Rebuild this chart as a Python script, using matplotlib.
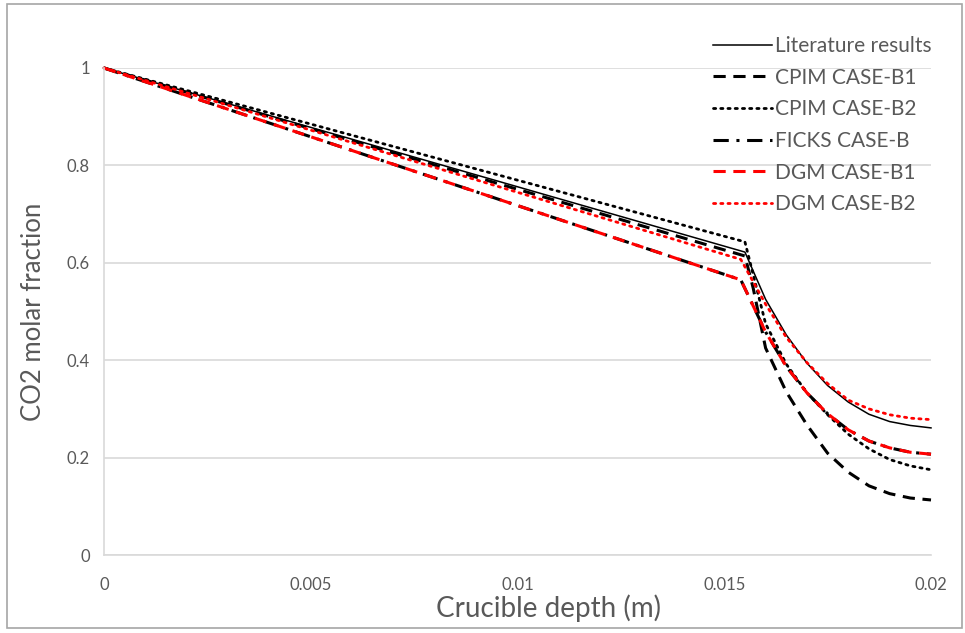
import matplotlib.pyplot as plt
from matplotlib.patches import Rectangle

# data (x in m, y = CO2 molar fraction)
x_tail = [0.0160, 0.0165, 0.0170, 0.0175, 0.0180, 0.0185, 0.0190, 0.0195, 0.0200]

lit_x = [0.0, 0.0155] + x_tail
lit_y = [1.0, 0.622, 0.525, 0.452, 0.394, 0.348, 0.314, 0.289, 0.274, 0.266, 0.261]

cpim_b1_x = [0.0, 0.0155, 0.0157] + x_tail
cpim_b1_y = [1.0, 0.614, 0.548, 0.425, 0.335, 0.267, 0.209, 0.170, 0.142, 0.126, 0.117, 0.113]

cpim_b2_x = [0.0, 0.0155] + x_tail
cpim_b2_y = [1.0, 0.643, 0.475, 0.392, 0.333, 0.288, 0.248, 0.218, 0.196, 0.183, 0.175]

ficks_x = [0.0, 0.0154] + x_tail
ficks_y = [1.0, 0.565, 0.458, 0.387, 0.333, 0.290, 0.257, 0.234, 0.220, 0.211, 0.207]

dgm_b1_x = [0.0, 0.0154] + x_tail
dgm_b1_y = [1.0, 0.565, 0.458, 0.387, 0.333, 0.290, 0.257, 0.234, 0.220, 0.211, 0.207]

dgm_b2_x = [0.0, 0.0154] + x_tail
dgm_b2_y = [1.0, 0.607, 0.515, 0.447, 0.395, 0.352, 0.318, 0.300, 0.288, 0.281, 0.278]

xticks = [0, 0.005, 0.01, 0.015, 0.02]
xtick_labels = ['0', '0.005', '0.01', '0.015', '0.02']
yticks = [0, 0.2, 0.4, 0.6, 0.8, 1]
ytick_labels = ['0', '0.2', '0.4', '0.6', '0.8', '1']

plt.rcParams['font.family'] = ['Lato', 'DejaVu Sans']
txt = '#595959'
grid = '#d9d9d9'

fig = plt.figure(figsize=(9.65, 6.33), dpi=100)
ax = fig.add_axes([104/965, 1-555/633, 827/965, 487/633])

ax.plot(lit_x, lit_y, color='black', lw=1.1, label='Literature results', clip_on=False)
ax.plot(cpim_b1_x, cpim_b1_y, color='black', lw=2.2, dashes=(4, 2.5),
        label='CPIM CASE-B1', clip_on=False)
ax.plot(cpim_b2_x, cpim_b2_y, color='black', lw=2.0, dashes=(0.8, 1.8),
        dash_capstyle='round', label='CPIM CASE-B2', clip_on=False)
ax.plot(ficks_x, ficks_y, color='black', lw=2.2, dashes=(5, 2.5, 1, 2.5),
        label='FICKS CASE-B', clip_on=False)
ax.plot(dgm_b1_x, dgm_b1_y, color='#ff0000', lw=2.2, dashes=(4, 2.5),
        label='DGM CASE-B1', clip_on=False)
ax.plot(dgm_b2_x, dgm_b2_y, color='#ff0000', lw=2.0, dashes=(0.8, 1.8),
        dash_capstyle='round', label='DGM CASE-B2', clip_on=False)

ax.set_xlim(0, 0.02)
ax.set_ylim(0, 1)
ax.set_xticks(xticks)
ax.set_xticklabels(xtick_labels)
ax.set_yticks(yticks)
ax.set_yticklabels(ytick_labels)
ax.tick_params(length=0, labelsize=12, labelcolor=txt)
ax.tick_params(axis='x', pad=16)
ax.tick_params(axis='y', pad=10)
ax.grid(axis='y', color=grid, lw=1.2)
ax.set_axisbelow(True)
for s in ['top', 'right']:
    ax.spines[s].set_visible(False)
for s in ['left', 'bottom']:
    ax.spines[s].set_color(grid)
    ax.spines[s].set_linewidth(1.2)

ax.set_xlabel('Crucible depth (m)', fontsize=20, color=txt)
ax.xaxis.set_label_coords(0.537, -0.08)
ax.set_ylabel('CO2 molar fraction', fontsize=18.5, color=txt)
ax.yaxis.set_label_coords(-0.07, 0.5)

leg = ax.legend(loc='upper left', bbox_to_anchor=(0.736, 1.066), frameon=False,
                fontsize=15, labelcolor=txt, handlelength=2.83, handletextpad=0.15,
                labelspacing=0.56, borderpad=0, borderaxespad=0)

# outer frame around the chart
fig.patches.append(Rectangle((7/965, 1-628/633), 955/965, 624/633, transform=fig.transFigure,
                             fill=False, edgecolor='#a6a6a6', lw=1.2))

fig.savefig('out.png', dpi=100)
